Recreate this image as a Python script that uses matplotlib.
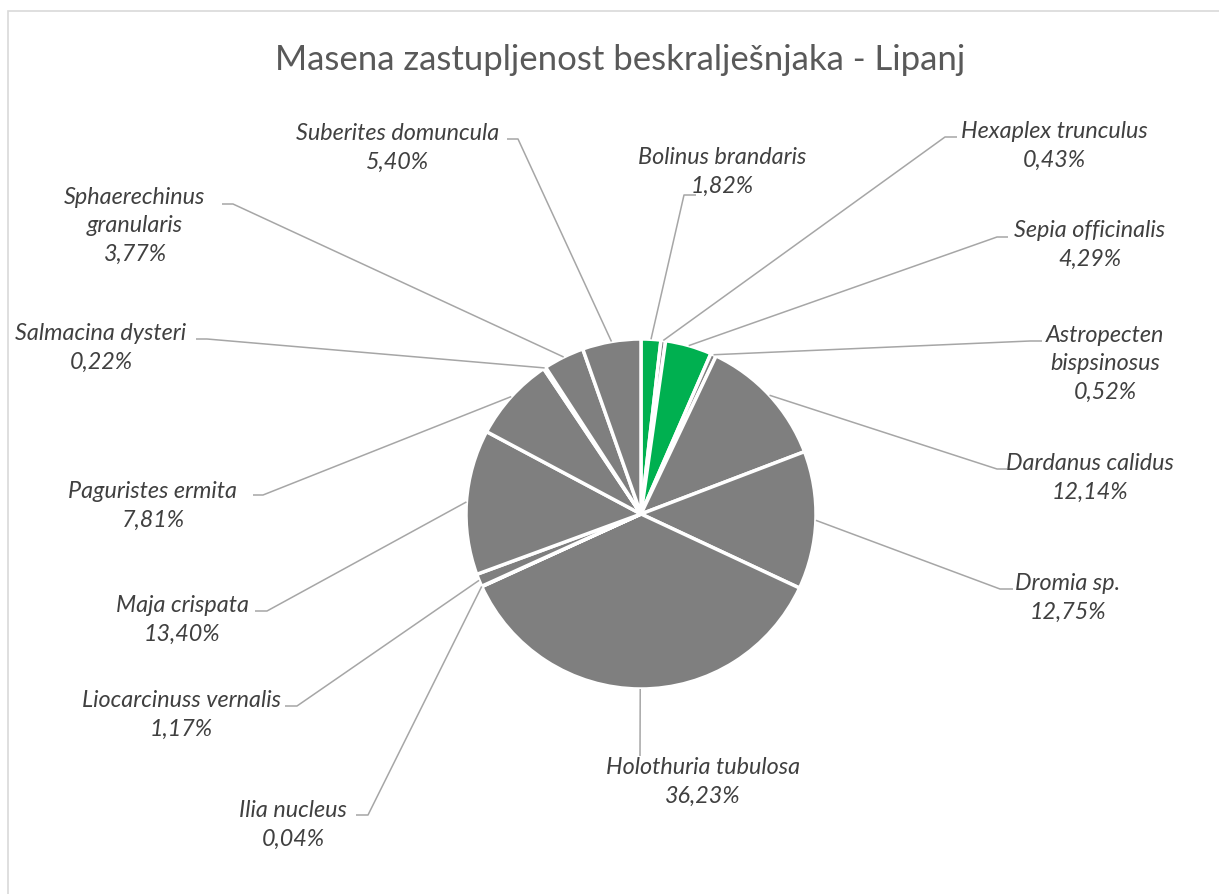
import numpy as np
import matplotlib.pyplot as plt
from matplotlib.patches import Rectangle

# data (mass share per species, June)
species = ['Bolinus brandaris', 'Hexaplex trunculus', 'Sepia officinalis',
           'Astropecten\nbispsinosus', 'Dardanus calidus', 'Dromia sp.',
           'Holothuria tubulosa', 'Ilia nucleus', 'Liocarcinuss vernalis',
           'Maja crispata', 'Paguristes ermita', 'Salmacina dysteri',
           'Sphaerechinus\ngranularis', 'Suberites domuncula']
shares = [1.82, 0.43, 4.29, 0.52, 12.14, 12.75, 36.23, 0.04, 1.17,
          13.40, 7.81, 0.22, 3.77, 5.40]
highlight = ['Bolinus brandaris', 'Sepia officinalis']

# layout in image pixels (y measured from the top)
W, H = 1219, 895
center = (641, 515)
radius = 175
text_pos = [(722, 172), (1054, 146), (1090, 245), (1105, 364), (1090, 478),
            (1068, 598), (703, 782), (293, 825), (181, 715), (182, 620),
            (153, 506), (101, 348), (135, 226), (398, 148)]
knee_pos = [(684, 196), (945, 138), (997, 238), (1030, 342), (997, 470),
            (1000, 590), (640, 757), (368, 816), (297, 707), (267, 612),
            (263, 496), (207, 340), (233, 205), (518, 140)]
end_x = [696, 957, 1008, 1042, 1007, 1013, 640, 356, 285, 255, 253, 196, 222, 507]

GRAY = '#7F7F7F'
GREEN = '#00B050'
LINE = '#A6A6A6'
TEXT = '#404040'

fig = plt.figure(figsize=(W / 100, H / 100), dpi=100)
ax = fig.add_axes([0, 0, 1, 1])

colors = [GREEN if s in highlight else GRAY for s in species]
wedges, _ = ax.pie(shares, colors=colors, startangle=90, counterclock=False,
                   center=(center[0], H - center[1]), radius=radius,
                   wedgeprops=dict(edgecolor='white', linewidth=2.5))

ax.set_xlim(0, W)
ax.set_ylim(0, H)
ax.set_aspect('auto')
ax.axis('off')

# frame (only top/left visible in the original crop)
ax.add_patch(Rectangle((8, -10), W + 20, H - 12 + 10, fill=False,
                       edgecolor='#D9D9D9', linewidth=1.2))

ax.text(620, H - 60, 'Masena zastupljenost beskralješnjaka - Lipanj',
        ha='center', va='center', fontsize=25, color='#595959', family='Lato')

for i, w in enumerate(wedges):
    mid = np.deg2rad((w.theta1 + w.theta2) / 2)
    sx = w.center[0] + radius * np.cos(mid)
    sy = w.center[1] + radius * np.sin(mid)
    kx, ky = knee_pos[i]
    ax.plot([sx, kx, end_x[i]], [sy, H - ky, H - ky], color=LINE, lw=1.1,
            solid_capstyle='butt')
    pct = f"{shares[i]:.2f}%".replace('.', ',')
    tx, ty = text_pos[i]
    ax.text(tx, H - ty, f"{species[i]}\n{pct}", ha='center', va='center',
            fontsize=16.8, style='italic', color=TEXT, family='Lato',
            linespacing=1.45)

fig.savefig('out.png', dpi=100)
